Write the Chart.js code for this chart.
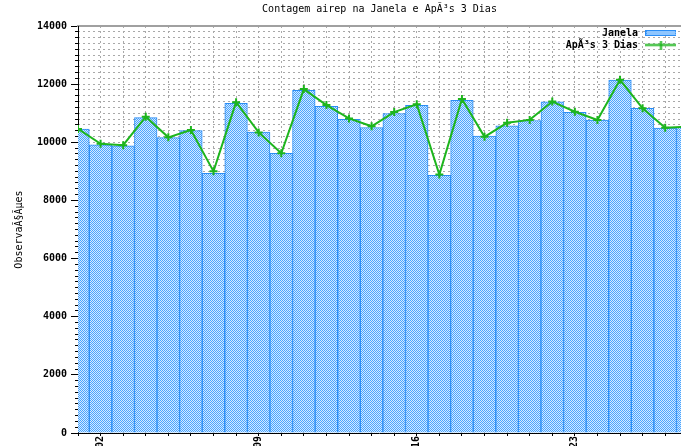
<!DOCTYPE html>
<html>
<head>
<meta charset="utf-8">
<script src="https://cdn.jsdelivr.net/npm/chart.js@4"></script>
<style>
html, body { margin: 0; padding: 0; background: #fff; }
#wrap { width: 681px; height: 446px; }
</style>
</head>
<body>
<div id="wrap"><canvas id="c" width="681" height="446"></canvas></div>
<script>
// ---- data ----
const days = [1, 2, 3, 4, 5, 6, 7, 8, 9, 10, 11, 12, 13, 14, 15, 16, 17, 18, 19, 20, 21, 22, 23, 24, 25, 26, 27, 28];
const janela = [10450, 9910, 9880, 10850, 10160, 10400, 8930, 11340, 10350, 9620, 11790, 11240, 10790, 10510, 10990, 11270, 8860, 11440, 10210, 10570, 10750, 11390, 11030, 10760, 12140, 11170, 10490, 10520];
const apos3Dias = [10460, 9950, 9900, 10880, 10170, 10420, 9000, 11380, 10340, 9620, 11830, 11280, 10820, 10550, 11040, 11310, 8890, 11490, 10190, 10670, 10770, 11400, 11050, 10770, 12150, 11170, 10500, 10540];
const xTickDays = [2, 9, 16, 23];
const xTickLabels = ['02', '09', '16', '23'];
const seriesNames = ['Janela', 'ApÃ³s 3 Dias'];
const chartTitle = 'Contagem airep na Janela e ApÃ³s 3 Dias';
const yTitle = 'ObservaÃ§Ãµes';

const canvas = document.getElementById('c');
const ctx = canvas.getContext('2d');

// checker fill pattern for the bars
const tile = document.createElement('canvas');
tile.width = 2; tile.height = 2;
const tg = tile.getContext('2d');
tg.fillStyle = '#d2eaff'; tg.fillRect(0, 0, 2, 2);
tg.fillStyle = '#4aa3ff'; tg.fillRect(0, 0, 1, 1); tg.fillRect(1, 1, 1, 1);
const barPattern = ctx.createPattern(tile, 'repeat');

const GREEN = '#1db51d';
const BAR_BORDER = '#2a8df5';

// legend swatches
const barSwatch = document.createElement('canvas');
barSwatch.width = 31; barSwatch.height = 6;
(function () {
  const g = barSwatch.getContext('2d');
  g.fillStyle = g.createPattern(tile, 'repeat');
  g.fillRect(0, 0, 31, 6);
  g.strokeStyle = BAR_BORDER; g.lineWidth = 1;
  g.strokeRect(0.5, 0.5, 30, 5);
})();
const lineSwatch = document.createElement('canvas');
lineSwatch.width = 31; lineSwatch.height = 9;
(function () {
  const g = lineSwatch.getContext('2d');
  g.fillStyle = GREEN;
  g.fillRect(0, 3.5, 31, 2);
  g.fillRect(14.5, 0, 2, 9);
})();

Chart.defaults.font.family = "'DejaVu Sans Mono', monospace";
Chart.defaults.font.size = 10;
Chart.defaults.color = '#000';

const GRID = '#a9a9a9';

// place the (zero-width) legend box over the plot area so it draws inside it
const legendPlace = {
  id: 'legendPlace',
  afterLayout(chart) {
    const lg = chart.legend;
    const a = chart.chartArea;
    if (!lg) return;
    lg.left = a.left; lg.right = a.right; lg.width = a.right - a.left;
    lg.top = a.top; lg.bottom = a.bottom; lg.height = a.bottom - a.top;
  }
};

new Chart(ctx, {
  type: 'bar',
  plugins: [legendPlace],
  data: {
    labels: days,
    datasets: [
      {
        type: 'bar',
        label: seriesNames[0],
        data: janela,
        backgroundColor: barPattern,
        borderColor: BAR_BORDER,
        borderWidth: 1,
        barPercentage: 1,
        categoryPercentage: 1,
        xAxisID: 'x',
        yAxisID: 'y',
        order: 1
      },
      {
        type: 'line',
        label: seriesNames[1],
        data: apos3Dias,
        borderColor: GREEN,
        backgroundColor: GREEN,
        borderWidth: 2,
        tension: 0,
        fill: false,
        pointStyle: 'cross',
        pointRadius: 4,
        pointBorderWidth: 2,
        pointBorderColor: GREEN,
        xAxisID: 'x',
        yAxisID: 'y',
        order: 0
      }
    ]
  },
  options: {
    responsive: false,
    animation: false,
    events: [],
    layout: { padding: 0, autoPadding: false },
    scales: {
      x: {
        type: 'linear',
        position: 'bottom',
        offset: false,
        min: 1,
        max: 27.7,
        afterBuildTicks: (s) => { s.ticks = days.filter(d => d <= s.max).map(d => ({ value: d })); },
        ticks: {
          autoSkip: false,
          minRotation: 90,
          maxRotation: 90,
          padding: 0,
          color: '#000',
          font: { weight: 'bold' },
          callback: (v) => { const i = xTickDays.indexOf(v); return i >= 0 ? xTickLabels[i] : ''; }
        },
        grid: { offset: false, color: GRID, lineWidth: 1, tickLength: 3, tickColor: '#000' },
        border: { display: true, color: '#000', width: 1, dash: [2, 3] },
        afterFit: (s) => { s.height = 13; s.paddingLeft = 0; s.paddingRight = 0; }
      },
      x2: {
        type: 'linear',
        position: 'top',
        offset: false,
        min: 1,
        max: 27.7,
        ticks: { display: false },
        grid: { display: false, offset: false },
        border: { display: true, color: '#a0a0a0', width: 2 },
        afterFit: (s) => { s.height = 0; s.paddingLeft = 0; s.paddingRight = 0; }
      },
      y: {
        type: 'linear',
        position: 'left',
        weight: 1,
        min: 0,
        max: 14000,
        ticks: { stepSize: 2000, padding: 4, color: '#000', font: { weight: 'bold' }, callback: (v) => String(v) },
        grid: { drawOnChartArea: false, tickLength: 7, tickColor: '#000' },
        border: { display: true, color: '#000', width: 1 },
        title: { display: true, text: yTitle, color: '#000', font: { size: 10 }, padding: { top: 13, bottom: 0 } },
        afterFit: (s) => { s.width = 78; }
      },
      yMinor: {
        type: 'linear',
        position: 'left',
        weight: 0,
        min: 0,
        max: 14000,
        ticks: { stepSize: 200, display: false },
        grid: {
          color: (c) => (c.tick && (c.tick.value === 0 || c.tick.value === 14000)) ? 'rgba(0,0,0,0)' : GRID,
          tickLength: 3,
          tickColor: '#000'
        },
        border: { display: false, dash: [2, 3] },
        afterFit: (s) => { s.width = 0; s.paddingTop = 0; s.paddingBottom = 0; }
      }
    },
    plugins: {
      tooltip: { enabled: false },
      title: {
        display: true,
        text: chartTitle,
        fullSize: false,
        color: '#000',
        font: { size: 10, weight: 'normal' },
        padding: { top: 3, bottom: 11 }
      },
      legend: {
        display: true,
        position: 'right',
        fullSize: false,
        maxWidth: 0.001,
        align: 'start',
        rtl: true,
        textDirection: 'ltr',
        labels: {
          usePointStyle: true,
          pointStyleWidth: 36,
          padding: 2,
          color: '#000',
          font: { size: 10, weight: 'bold' },
          sort: (a, b) => a.datasetIndex - b.datasetIndex,
          generateLabels: (chart) => {
            const items = Chart.defaults.plugins.legend.labels.generateLabels(chart);
            items.forEach(it => { it.pointStyle = it.datasetIndex === 0 ? barSwatch : lineSwatch; it.fontColor = '#000'; });
            return items;
          }
        }
      }
    }
  }
});
</script>
</body>
</html>
